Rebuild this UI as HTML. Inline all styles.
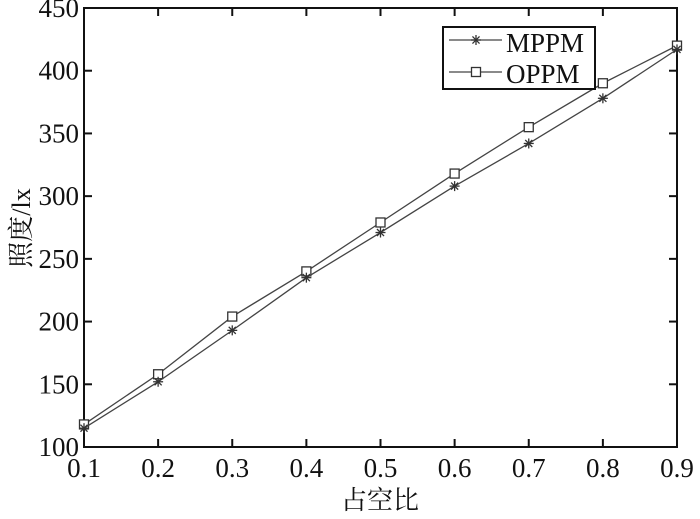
<!DOCTYPE html>
<html><head><meta charset="utf-8"><style>
body{margin:0;background:#fff;}
svg text{font-family:"Liberation Serif","Noto Serif CJK SC",serif;fill:#111;}
</style></head><body>
<svg width="700" height="514" viewBox="0 0 700 514">
<g id="plot"></g>
</svg>
<script>
const categories=[0.1,0.2,0.3,0.4,0.5,0.6,0.7,0.8,0.9];
const mppmValues=[115,152,193,235,271,308,342,378,417];
const oppmValues=[118,158,204,240,279,318,355,390,420];
const yTicks=[100,150,200,250,300,350,400,450];
const xTickLabels=["0.1","0.2","0.3","0.4","0.5","0.6","0.7","0.8","0.9"];
const L=84,R=677,T=8,B=447;
const xS=v=>L+(v-0.1)/(0.9-0.1)*(R-L);
const yS=v=>B-(v-100)/(450-100)*(B-T);
const ns="http://www.w3.org/2000/svg";
const g=document.getElementById('plot');
function mk(t,a,p){const e=document.createElementNS(ns,t);for(const k in a)e.setAttribute(k,a[k]);(p||g).appendChild(e);return e;}
// frame
const fr=mk('rect',{x:L,y:T,width:R-L,height:B-T,fill:'none',stroke:'#111','stroke-width':2});


yTicks.forEach(v=>{
  const y=yS(v);
  const t=mk('line',{x1:L,x2:L+8,y1:y,y2:y,stroke:'#111','stroke-width':2});
  
  
  mk('line',{x1:R,x2:R-8,y1:y,y2:y,stroke:'#111','stroke-width':2});
  const tx=mk('text',{x:79,y:y+9,'text-anchor':'end','font-size':27});
  tx.textContent=v;
  
  
});
categories.forEach((c,i)=>{
  const x=xS(c);
  const t=mk('line',{x1:x,x2:x,y1:B,y2:B-8,stroke:'#111','stroke-width':2});
  
  
  mk('line',{x1:x,x2:x,y1:T,y2:T+8,stroke:'#111','stroke-width':2});
  const tx=mk('text',{x:x,y:477,'text-anchor':'middle','font-size':27});
  tx.textContent=xTickLabels[i];
  
  
});
const xt=mk('text',{x:380,y:509,'text-anchor':'middle','font-size':26});
xt.textContent='占空比';


const yt=mk('text',{x:0,y:0,'text-anchor':'middle','font-size':26,transform:'translate(30,228) rotate(-90)'});
yt.textContent='照度/lx';


function star(x,y,p){for(let a=0;a<4;a++){const an=a*Math.PI/4;mk('line',{x1:x-5*Math.cos(an),y1:y-5*Math.sin(an),x2:x+5*Math.cos(an),y2:y+5*Math.sin(an),stroke:'#333','stroke-width':1.3},p);}}
function sq(x,y,p){mk('rect',{x:x-4.5,y:y-4.5,width:9,height:9,fill:'#fff',stroke:'#333','stroke-width':1.3},p);}
function series(vals,name,marker){
  const sg=mk('g',{});
  
  
  const pl=mk('polyline',{points:vals.map((v,i)=>xS(categories[i])+','+yS(v)).join(' '),fill:'none',stroke:'#444','stroke-width':1.3},sg);
  
  
  vals.forEach((v,i)=>marker(xS(categories[i]),yS(v),sg));
}
series(oppmValues,'oppm-series',sq);
series(mppmValues,'mppm-series',star);
// legend
const lg=mk('g',{});


mk('rect',{x:443,y:27,width:152,height:62,fill:'#fff',stroke:'#111','stroke-width':2},lg);
mk('line',{x1:449,x2:502,y1:40,y2:40,stroke:'#444','stroke-width':1.3},lg);star(476,40,lg);
mk('line',{x1:449,x2:502,y1:72,y2:72,stroke:'#444','stroke-width':1.3},lg);sq(476,72,lg);
const l1=mk('text',{x:506,y:52,'font-size':27},lg);l1.textContent='MPPM';


const l2=mk('text',{x:506,y:83,'font-size':27},lg);l2.textContent='OPPM';


</script>
</body></html>
